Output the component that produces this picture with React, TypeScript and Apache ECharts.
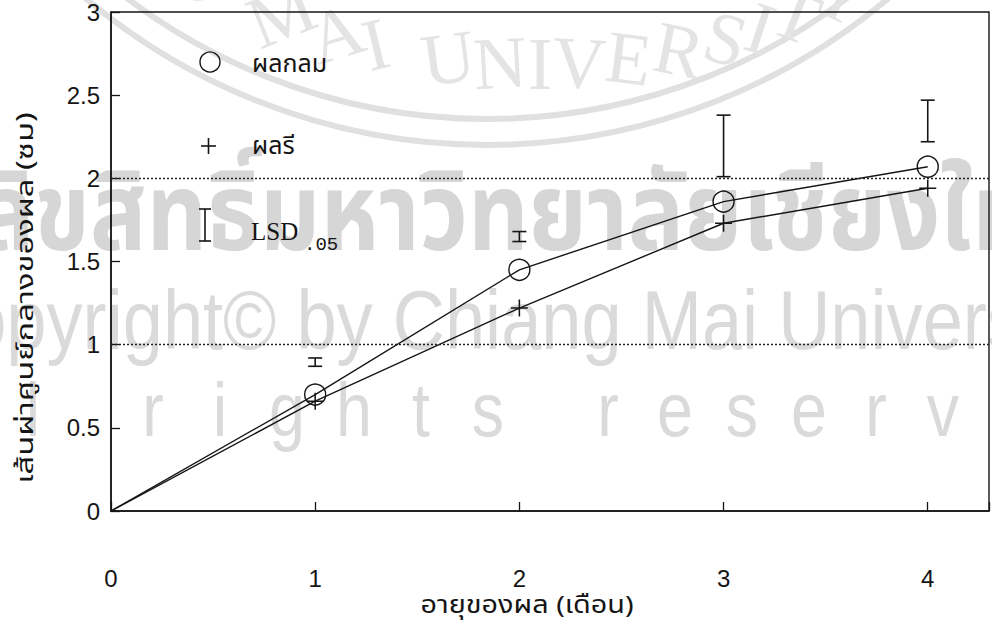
import React, { useEffect, useRef } from "react";
import * as echarts from "echarts";

// Fruit age (months) and mean fruit diameter (cm)
const months = [0, 1, 2, 3, 4];
const roundFruit = [0, 0.7, 1.45, 1.86, 2.07];
const ovalFruit = [0, 0.66, 1.22, 1.73, 1.94];
// LSD(.05) bars: lower and upper ends at each month
const lsdMonths = [1, 2, 3, 4];
const lsdLow = [0.87, 1.62, 2.01, 2.22];
const lsdHigh = [0.92, 1.68, 2.38, 2.47];
const xTicks = [0, 1, 2, 3, 4];
const yTicks = [0, 0.5, 1, 1.5, 2, 2.5, 3];
const refLines = [1, 2];

const labels = {
  round: "ผลกลม",
  oval: "ผลรี",
  lsd: "LSD",
  lsdSub: ".05",
  xName: "อายุของผล (เดือน)",
  yName: "เส้นผ่าศูนย์กลางของผล (ซม)",
};

const INK = "#151515";
const WM = "#dadada";
const THAI = "'Noto Sans Thai', 'Noto Sans Thai Looped', 'Loma', 'Garuda', 'Norasi', 'Tlwg Typist', 'DejaVu Sans', sans-serif";
const NUM = "'Liberation Sans', Arial, sans-serif";
const PLUS = "path://M4.55,0 h0.9 v4.55 h4.55 v0.9 h-4.55 v4.55 h-0.9 v-4.55 h-4.55 v-0.9 h4.55 z";

// approximate advance widths of the seal's serif capitals
const sealWidth: Record<string, number> = {
  C: 50, H: 54, I: 28, A: 54, N: 52, G: 54, " ": 34, M: 62, U: 52, V: 50, E: 50, R: 52, S: 44, T: 48, Y: 52,
};

function watermark(): any[] {
  const els: any[] = [];
  const base = { z: -10, silent: true };
  // university seal rings
  [596, 622].forEach((r) => {
    els.push({
      ...base,
      type: "arc",
      shape: { cx: 487, cy: -477, r, startAngle: 0, endAngle: Math.PI },
      style: { stroke: "#e0e0e0", lineWidth: 6, fill: null },
    });
  });
  // seal lettering along the lower arc, tops facing the seal centre
  const seal = "CHIANG MAI UNIVERSITY".split("");
  const cx = 540;
  const rr = 700;
  const cy = 64 - rr;
  const anchor = 13;
  const centres: number[] = [];
  let acc = 0;
  seal.forEach((ch, i) => {
    if (i > 0) acc += sealWidth[seal[i - 1]] / 2 + sealWidth[ch] / 2;
    centres.push(acc);
  });
  const zero = centres[anchor];
  seal.forEach((ch, i) => {
    if (ch === " ") return;
    const s = centres[i] - zero;
    const phi = Math.PI / 2 - s / rr;
    els.push({
      ...base,
      type: "text",
      x: cx + rr * Math.cos(phi),
      y: cy + rr * Math.sin(phi),
      rotation: phi - Math.PI / 2,
      style: {
        text: ch,
        font: "74px 'Liberation Serif', serif",
        fill: "#e4e4e4",
        align: "center",
        verticalAlign: "middle",
      },
    });
  });
  els.push({
    ...base,
    type: "text",
    x: -22,
    y: 163,
    scaleX: 0.94,
    scaleY: 1.08,
    style: {
      text: "ลิขสิทธิ์มหาวิทยาลัยเชียงใหม่",
      font: "bold 100px " + THAI,
      fill: "#d6d6d6",
      verticalAlign: "top",
    },
  });
  els.push({
    ...base,
    type: "text",
    x: -86,
    y: 278,
    scaleX: 0.86,
    style: {
      text: "Copyright© by Chiang Mai University",
      font: "84px " + NUM,
      fill: WM,
      verticalAlign: "top",
    },
  });
  let px = 153 - (67 * 3 + 53);
  "All rights reserved".split("").forEach((ch) => {
    if (ch !== " ") {
      els.push({
        ...base,
        type: "text",
        x: px,
        y: 372,
        scaleX: 0.85,
        style: {
          text: ch,
          font: "76px " + NUM,
          fill: WM,
          align: "center",
          verticalAlign: "top",
        },
      });
      px += 67;
    } else {
      px += 53;
    }
  });
  return els;
}

function legend(): any[] {
  const st = { stroke: INK, lineWidth: 1.6 };
  return [
    {
      type: "circle",
      z: 20,
      shape: { cx: 210, cy: 62, r: 10 },
      style: { fill: null, stroke: INK, lineWidth: 1.4 },
    },
    {
      type: "text",
      z: 20,
      x: 252,
      y: 64,
      style: { text: labels.round, font: "25px " + THAI, fill: INK, verticalAlign: "middle" },
    },
    {
      type: "group",
      z: 20,
      children: [
        { type: "line", shape: { x1: 201, y1: 146, x2: 216, y2: 146 }, style: st },
        { type: "line", shape: { x1: 208.5, y1: 138, x2: 208.5, y2: 154 }, style: st },
      ],
    },
    {
      type: "text",
      z: 20,
      x: 252,
      y: 146,
      style: { text: labels.oval, font: "25px " + THAI, fill: INK, verticalAlign: "middle" },
    },
    {
      type: "group",
      z: 20,
      children: [
        { type: "line", shape: { x1: 205, y1: 209, x2: 205, y2: 241 }, style: st },
        { type: "line", shape: { x1: 199, y1: 209, x2: 211, y2: 209 }, style: st },
        { type: "line", shape: { x1: 199, y1: 241, x2: 211, y2: 241 }, style: st },
      ],
    },
    {
      type: "text",
      z: 20,
      x: 251,
      y: 231,
      style: { text: labels.lsd, font: "25px 'Liberation Serif', serif", fill: INK, verticalAlign: "middle" },
    },
    {
      type: "text",
      z: 20,
      x: 304,
      y: 245,
      style: { text: labels.lsdSub, font: "19px 'Liberation Mono', monospace", fill: INK, verticalAlign: "middle" },
    },
  ];
}

function axisTitles(): any[] {
  return [
    {
      type: "text",
      z: 20,
      x: 527,
      y: 606,
      scaleX: 1.2,
      style: { text: labels.xName, font: "24px " + THAI, fill: INK, align: "center", verticalAlign: "middle" },
    },
    {
      type: "text",
      z: 20,
      x: 26,
      y: 298,
      rotation: Math.PI / 2,
      scaleX: 1.42,
      style: { text: labels.yName, font: "23px " + THAI, fill: INK, align: "center", verticalAlign: "middle" },
    },
  ];
}

export default function App() {
  const ref = useRef<HTMLDivElement>(null);

  useEffect(() => {
    if (!ref.current) return;
    const chart = echarts.init(ref.current, undefined, { renderer: "svg" });

    const lsdData = lsdMonths.map((m, i) => [m, lsdLow[i], lsdHigh[i]]);
    // the origin is a plain line start, without a marker
    const points = (vals: number[]) =>
      months.map((m, i) => (m === 0 ? { value: [m, vals[i]], symbol: "none" } : { value: [m, vals[i]] }));

    chart.setOption({
      animation: false,
      backgroundColor: "#ffffff",
      grid: {
        left: 111,
        right: 2,
        top: 12,
        bottom: 115,
        show: true,
        borderColor: INK,
        borderWidth: 1.4,
        backgroundColor: "transparent",
      },
      xAxis: {
        type: "value",
        min: 0,
        max: 4.3,
        interval: 1,
        axisLine: { lineStyle: { color: INK, width: 1.5 } },
        axisTick: { inside: true, length: 9, lineStyle: { color: INK, width: 1.3 } },
        axisLabel: {
          margin: 55,
          fontFamily: NUM,
          fontSize: 24,
          color: INK,
          formatter: (v: number) => (xTicks.includes(v) ? String(v) : ""),
        },
        splitLine: { show: false },
      },
      yAxis: {
        type: "value",
        min: 0,
        max: 3,
        interval: 0.5,
        axisLine: { lineStyle: { color: INK, width: 1.5 } },
        axisTick: { inside: true, length: 9, lineStyle: { color: INK, width: 1.3 } },
        axisLabel: {
          margin: 11,
          fontFamily: NUM,
          fontSize: 24,
          color: INK,
          formatter: (v: number) => (yTicks.includes(v) ? String(v) : ""),
        },
        splitLine: { show: false },
      },
      graphic: [...watermark(), ...legend(), ...axisTitles()],
      series: [
        {
          name: labels.round,
          type: "line",
          data: points(roundFruit),
          symbol: "circle",
          symbolSize: 21,
          itemStyle: { color: "transparent", borderColor: INK, borderWidth: 1.4 },
          lineStyle: { color: INK, width: 1.4 },
          markLine: {
            silent: true,
            symbol: "none",
            label: { show: false },
            lineStyle: { color: "#222", type: [2, 2], width: 1.3 },
            data: refLines.map((v) => ({ yAxis: v })),
          },
          z: 3,
        },
        {
          name: labels.oval,
          type: "line",
          data: points(ovalFruit),
          symbol: PLUS,
          symbolSize: 17,
          itemStyle: { color: INK },
          lineStyle: { color: INK, width: 1.4 },
          z: 3,
        },
        {
          name: labels.lsd,
          type: "custom",
          data: lsdData,
          renderItem: (params: any, api: any) => {
            const x = api.value(0);
            const top = api.coord([x, api.value(2)]);
            const bot = api.coord([x, api.value(1)]);
            const w = 7;
            const st = { stroke: INK, lineWidth: 1.6 };
            return {
              type: "group",
              children: [
                { type: "line", shape: { x1: top[0], y1: top[1], x2: bot[0], y2: bot[1] }, style: st },
                { type: "line", shape: { x1: top[0] - w, y1: top[1], x2: top[0] + w, y2: top[1] }, style: st },
                { type: "line", shape: { x1: bot[0] - w, y1: bot[1], x2: bot[0] + w, y2: bot[1] }, style: st },
              ],
            };
          },
          z: 3,
        },
      ],
    });

    return () => chart.dispose();
  }, []);

  return (
    <div
      ref={ref}
      style={{ position: "fixed", left: 0, top: 0, width: 992, height: 626 }}
    />
  );
}
